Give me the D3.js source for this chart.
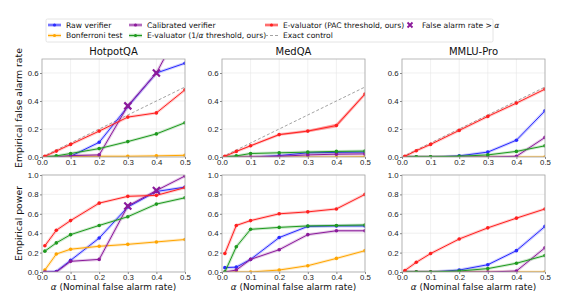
<!DOCTYPE html>
<html>
<head>
<meta charset="utf-8">
<script src="https://cdn.jsdelivr.net/npm/d3@7"></script>
<style>
  body { margin: 0; background: #fff; }
  svg { font-family: "DejaVu Sans", sans-serif; }
  .grid line { stroke: #e6e6e6; stroke-width: 0.6; }
  .axis path, .axis line { stroke: #888; }
  .axis text { fill: #222; font-size: 7.8px; }
</style>
</head>
<body>
<div id="chart"></div>
<script>
// data
var alphas = [0.01, 0.05, 0.1, 0.2, 0.3, 0.4, 0.5]
var datasets = ["HotpotQA", "MedQA", "MMLU-Pro"]
var methods = ["Raw verifier", "Bonferroni test", "Calibrated verifier", "E-valuator (1/\u03b1 threshold, ours)", "E-valuator (PAC threshold, ours)"]
var colors = ["#2b2bff", "#ffa500", "#8b1a9b", "#1f9a1f", "#ff2020"]

// false alarm rate, per dataset, per method (same order as methods)
var farHotpot = [
  [0, 0, 0.005, 0.105, 0.36, 0.60, 0.67],
  [0, 0, 0.003, 0.005, 0.005, 0.008, 0.012],
  [0, 0, 0.01, 0.015, 0.365, 0.60, 0.98],
  [0, 0.008, 0.025, 0.06, 0.11, 0.165, 0.245],
  [0.005, 0.042, 0.09, 0.185, 0.285, 0.315, 0.48]
]
var farMed = [
  [0, 0, 0, 0.01, 0.03, 0.033, 0.035],
  [0, 0, 0, 0, 0, 0, 0.002],
  [0, 0, 0, 0.005, 0.015, 0.02, 0.022],
  [0, 0.008, 0.025, 0.03, 0.035, 0.04, 0.042],
  [0.005, 0.04, 0.08, 0.16, 0.185, 0.225, 0.45]
]
var farMmlu = [
  [0, 0, 0, 0.008, 0.035, 0.12, 0.33],
  [0, 0, 0, 0, 0, 0, 0],
  [0, 0, 0, 0, 0, 0.005, 0.14],
  [0, 0.002, 0.002, 0.005, 0.015, 0.04, 0.08],
  [0.005, 0.045, 0.09, 0.19, 0.29, 0.385, 0.485]
]
// power
var powHotpot = [
  [0, 0.005, 0.12, 0.35, 0.67, 0.83, 0.875],
  [0.02, 0.185, 0.235, 0.265, 0.285, 0.31, 0.335],
  [0, 0, 0.11, 0.13, 0.68, 0.84, 0.99],
  [0.215, 0.30, 0.385, 0.48, 0.57, 0.70, 0.765],
  [0.27, 0.43, 0.53, 0.71, 0.78, 0.79, 0.87]
]
var powMed = [
  [0.045, 0.05, 0.13, 0.355, 0.47, 0.475, 0.475],
  [0, 0, 0, 0.02, 0.065, 0.14, 0.22],
  [0, 0.02, 0.13, 0.23, 0.385, 0.425, 0.425],
  [0, 0.26, 0.44, 0.46, 0.475, 0.48, 0.485],
  [0.19, 0.48, 0.53, 0.60, 0.62, 0.65, 0.80]
]
var powMmlu = [
  [0, 0, 0, 0.02, 0.075, 0.22, 0.47],
  [0, 0, 0, 0, 0, 0, 0],
  [0, 0, 0, 0, 0, 0.01, 0.25],
  [0, 0, 0, 0.01, 0.035, 0.09, 0.17],
  [0.015, 0.10, 0.19, 0.34, 0.455, 0.555, 0.65]
]
// spread of the E-valuator (PAC) band on MedQA false alarm rate
var medPacSpread = [0, 0.002, 0.004, 0.006, 0.008, 0.015, 0.008]

// points where calibrated verifier false alarm rate > alpha (index into alphas)
var violIdx = {HotpotQA: [4, 5]}

var xTicks = [0, 0.1, 0.2, 0.3, 0.4, 0.5]
var farTicks = [0, 0.2, 0.4, 0.6]
var powTicks = [0, 0.2, 0.4, 0.6, 0.8, 1.0]

var W = 571, H = 293
var svg = d3.select("#chart").append("svg").attr("width", W).attr("height", H)

var panelX = [42, 222, 402]
var panelW = 143
var rows = [
  {top: 59, h: 98, ymax: 0.7, ticks: farTicks, data: [farHotpot, farMed, farMmlu], label: "Empirical false alarm rate", exact: true},
  {top: 175, h: 97, ymax: 1.0, ticks: powTicks, data: [powHotpot, powMed, powMmlu], label: "Empirical power", exact: false}
]

rows.forEach(function(row, ri) {
  datasets.forEach(function(ds, ci) {
    var x = d3.scaleLinear().domain([0, 0.5]).range([0, panelW])
    var y = d3.scaleLinear().domain([0, row.ymax]).range([row.h, 0])
    var g = svg.append("g").attr("transform", "translate(" + panelX[ci] + "," + row.top + ")")

    var defs = g.append("clipPath").attr("id", "clip" + ri + ci)
    defs.append("rect").attr("width", panelW).attr("height", row.h)

    // grid
    var grid = g.append("g").attr("class", "grid")
    grid.selectAll(".gx").data(xTicks).enter().append("line")
      .attr("x1", function(d) { return x(d) }).attr("x2", function(d) { return x(d) })
      .attr("y1", 0).attr("y2", row.h)
    grid.selectAll(".gy").data(row.ticks).enter().append("line")
      .attr("y1", function(d) { return y(d) }).attr("y2", function(d) { return y(d) })
      .attr("x1", 0).attr("x2", panelW)

    var plot = g.append("g").attr("clip-path", "url(#clip" + ri + ci + ")")

    if (row.exact) {
      plot.append("line")
        .attr("x1", x(0)).attr("y1", y(0)).attr("x2", x(0.5)).attr("y2", y(0.5))
        .attr("stroke", "#999").attr("stroke-width", 0.9).attr("stroke-dasharray", "3,2")
    }

    var line = d3.line()
      .x(function(d, i) { return x(alphas[i]) })
      .y(function(d) { return y(d) })

    var series = row.data[ci]
    series.forEach(function(vals, mi) {
      // band
      if (ri == 0 && ci == 1 && mi == 4) {
        var area = d3.area()
          .x(function(d, i) { return x(alphas[i]) })
          .y0(function(d, i) { return y(d - medPacSpread[i]) })
          .y1(function(d, i) { return y(d + medPacSpread[i]) })
        plot.append("path").datum(vals).attr("d", area)
          .attr("fill", colors[mi]).attr("opacity", 0.3)
      }
      plot.append("path").datum(vals).attr("d", line)
        .attr("fill", "none").attr("stroke", colors[mi]).attr("stroke-width", 3)
        .attr("stroke-opacity", 0.22).attr("stroke-linejoin", "round")
      plot.append("path").datum(vals).attr("d", line)
        .attr("fill", "none").attr("stroke", colors[mi]).attr("stroke-width", 1)
      plot.selectAll(".pt" + mi).data(vals).enter().append("circle")
        .attr("cx", function(d, i) { return x(alphas[i]) })
        .attr("cy", function(d) { return y(d) })
        .attr("r", 1.8).attr("fill", colors[mi])
    })

    // violation markers
    var vi = violIdx[ds] || []
    vi.forEach(function(i) {
      var cx = x(alphas[i]), cy = y(series[2][i])
      plot.append("path")
        .attr("d", "M" + (cx - 3.5) + "," + (cy - 3.5) + "L" + (cx + 3.5) + "," + (cy + 3.5) +
          "M" + (cx - 3.5) + "," + (cy + 3.5) + "L" + (cx + 3.5) + "," + (cy - 3.5))
        .attr("stroke", "#8b1a9b").attr("stroke-width", 2.2)
    })

    // frame
    g.append("rect").attr("width", panelW).attr("height", row.h)
      .attr("fill", "none").attr("stroke", "#aaa").attr("stroke-width", 0.8)

    g.append("g").attr("class", "axis").attr("transform", "translate(0," + row.h + ")")
      .call(d3.axisBottom(x).tickValues(xTicks).tickFormat(d3.format(".1f")).tickSize(2).tickPadding(0.5))
      .call(function(a) { a.select(".domain").remove() })
    g.append("g").attr("class", "axis")
      .call(d3.axisLeft(y).tickValues(row.ticks).tickFormat(d3.format(".1f")).tickSize(2).tickPadding(1.5))
      .call(function(a) { a.select(".domain").remove() })

    if (ri == 0) {
      g.append("text").attr("x", panelW / 2).attr("y", -4).attr("text-anchor", "middle")
        .attr("font-size", 10).attr("fill", "#111").text(ds)
    } else {
      g.append("text").attr("x", panelW / 2).attr("y", row.h + 17.8).attr("text-anchor", "middle")
        .attr("font-size", 8.9).attr("fill", "#111")
        .html("<tspan font-style='italic'>\u03b1</tspan> (Nominal false alarm rate)")
    }
    if (ci == 0) {
      g.append("text").attr("transform", "translate(-20," + (row.h / 2) + ") rotate(-90)")
        .attr("text-anchor", "middle").attr("font-size", 9.3).attr("fill", "#111").text(row.label)
    }
  })
})

// legend
var lg = svg.append("g")
lg.append("rect").attr("x", 46).attr("y", 19).attr("width", 447).attr("height", 23)
  .attr("fill", "#fff").attr("stroke", "#ddd").attr("stroke-width", 0.8).attr("rx", 1.5)
var legItems = [
  {name: methods[0], c: colors[0], x: 48, y: 25},
  {name: methods[1], c: colors[1], x: 48, y: 35.5},
  {name: methods[2], c: colors[2], x: 129, y: 25},
  {name: methods[3], c: colors[3], x: 129, y: 35.5},
  {name: methods[4], c: colors[4], x: 265, y: 25},
  {name: "Exact control", c: "#999", x: 265, y: 35.5, dash: true}
]
legItems.forEach(function(d) {
  if (d.dash) {
    lg.append("line").attr("x1", d.x).attr("x2", d.x + 13).attr("y1", d.y).attr("y2", d.y)
      .attr("stroke", d.c).attr("stroke-width", 0.9).attr("stroke-dasharray", "3,2")
  } else {
    lg.append("line").attr("x1", d.x).attr("x2", d.x + 13).attr("y1", d.y).attr("y2", d.y)
      .attr("stroke", d.c).attr("stroke-width", 3.5).attr("stroke-opacity", 0.3)
    lg.append("line").attr("x1", d.x).attr("x2", d.x + 13).attr("y1", d.y).attr("y2", d.y)
      .attr("stroke", d.c).attr("stroke-width", 1)
    lg.append("circle").attr("cx", d.x + 6.5).attr("cy", d.y).attr("r", 1.6).attr("fill", d.c)
  }
  var t = lg.append("text").attr("x", d.x + 18).attr("y", d.y + 2.8)
    .attr("font-size", 7.6).attr("fill", "#111")
  if (d.name.indexOf("\u03b1") >= 0) {
    var parts = d.name.split("\u03b1")
    t.append("tspan").text(parts[0])
    t.append("tspan").attr("font-style", "italic").text("\u03b1")
    t.append("tspan").text(parts[1])
  } else t.text(d.name)
})
var mx = 410, my = 25
lg.append("path")
  .attr("d", "M" + (mx - 2.5) + "," + (my - 2.5) + "L" + (mx + 2.5) + "," + (my + 2.5) +
    "M" + (mx - 2.5) + "," + (my + 2.5) + "L" + (mx + 2.5) + "," + (my - 2.5))
  .attr("stroke", "#8b1a9b").attr("stroke-width", 1.8)
var lt = lg.append("text").attr("x", 422).attr("y", my + 2.8).attr("font-size", 7.6).attr("fill", "#111")
lt.append("tspan").text("False alarm rate > ")
lt.append("tspan").attr("font-style", "italic").text("\u03b1")
</script>
</body>
</html>
